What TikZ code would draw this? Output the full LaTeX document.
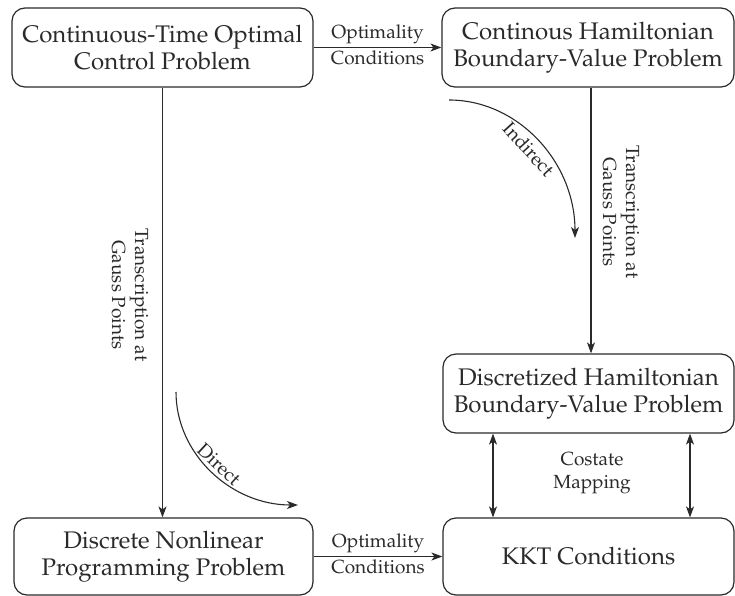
\documentclass[tikz,border=0pt]{standalone}
\usepackage[T1]{fontenc}
\usepackage{mathpazo}
\usetikzlibrary{arrows.meta}
\definecolor{ink}{HTML}{2A2A2A}
\begin{document}
\begin{tikzpicture}[x=1pt,y=-1pt,
  box/.style={draw=ink, line width=1.2pt, rounded corners=13pt, align=center, text=ink,
    font=\fontsize{24}{27}\selectfont, inner sep=0pt},
  lab/.style={text=ink, font=\fontsize{19}{23}\selectfont, align=center},
  arr/.style={draw=ink, line width=1.1pt, -{Stealth[length=11pt,width=8pt,inset=3pt]}},
  darr/.style={draw=ink, line width=1.1pt, {Stealth[length=11pt,width=8pt,inset=3pt]}-{Stealth[length=11pt,width=8pt,inset=3pt]}}]
\useasboundingbox (0,0) rectangle (735,596);
\clip (0,0) rectangle (735,596);

\node[box, minimum width=301pt, minimum height=79pt] (ocp) at (162.5,47.5) {Continuous-Time Optimal\\Control Problem};
\node[box, minimum width=292pt, minimum height=79pt] (chbvp) at (588,47.5) {Continous Hamiltonian\\Boundary-Value Problem};
\node[box, minimum width=291pt, minimum height=79pt] (dhbvp) at (588.5,393.5) {Discretized Hamiltonian\\Boundary-Value Problem};
\node[box, minimum width=299pt, minimum height=77pt] (nlp) at (163.5,556.5) {Discrete Nonlinear\\Programming Problem};
\node[box, minimum width=291pt, minimum height=77pt] (kkt) at (588.5,556.5) {KKT Conditions};

% top optimality
\draw[arr] (ocp.east) -- node[lab, above, inner sep=3pt] (opt1) {Optimality} node[lab, below, inner sep=3pt] (cond1) {Conditions} (chbvp.west);
% bottom optimality
\draw[arr] (nlp.east) -- node[lab, above, inner sep=3pt] (opt2) {Optimality} node[lab, below, inner sep=3pt] (cond2) {Conditions} (kkt.west);

% left vertical
\draw[arr] (ocp.south) -- (ocp.south |- nlp.north);
\node[lab, rotate=-90] (tl) at (130,295) {Transcription at\\Gauss Points};

% right vertical
\draw[arr] ([xshift=3pt]chbvp.south) -- ([xshift=3pt]chbvp.south |- dhbvp.north);
\node[lab, rotate=-90] (tr) at (621,212) {Transcription at\\Gauss Points};

% costate
\draw[darr] ([xshift=-95.5pt]dhbvp.south) -- ([xshift=-95.5pt]dhbvp.south |- kkt.north);
\draw[darr] ([xshift=101.5pt]dhbvp.south) -- ([xshift=101.5pt]dhbvp.south |- kkt.north);
\node[lab] (cm) at (592,473) {Costate\\Mapping};

% indirect
\coordinate (is) at (449,100);
\coordinate (ie) at (575,238);
\draw[arr] (is) .. controls (518,100) and (575,162) .. node[lab, below, sloped, pos=0.5, inner sep=5pt] (ind) {Indirect} (ie);

% direct
\coordinate (ds) at (176,392);
\coordinate (de) at (298,505);
\draw[arr] (ds) .. controls (176,454) and (231,505) .. node[lab, above, sloped, pos=0.5, inner sep=3pt] (dir) {Direct} (de);
\end{tikzpicture}
\end{document}
